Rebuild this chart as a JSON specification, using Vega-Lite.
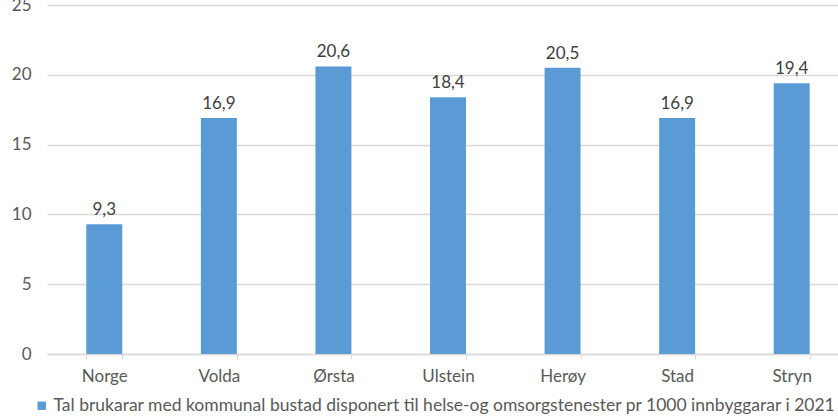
{
  "$schema": "https://vega.github.io/schema/vega-lite/v6.json",
  "width": 802,
  "height": 349,
  "autosize": {"type": "none"},
  "padding": {"left": 47, "top": 5, "right": 0, "bottom": 62},
  "usermeta": {"embedOptions": {"formatLocale": {"decimal": ",", "thousands": " ", "grouping": [3], "currency": ["", " kr"]}}},
  "title": {
    "text": "til helse-og omsorgstenester (pr 1000 innbyggarar) K-K tal 2021",
    "baseline": "bottom",
    "offset": -20,
    "fontSize": 21,
    "fontWeight": "normal",
    "color": "#595959",
    "anchor": "middle"
  },
  "config": {
    "font": "Lato",
    "view": {"stroke": null},
    "axis": {"labelColor": "#595959", "labelFontSize": 17, "titleColor": "#595959"},
    "legend": {"labelColor": "#595959"}
  },
  "data": {
    "values": [
      {"kommune": "Norge", "verdi": 9.3, "serie": "Tal brukarar med kommunal bustad disponert til helse-og omsorgstenester pr 1000 innbyggarar i 2021"},
      {"kommune": "Volda", "verdi": 16.9, "serie": "Tal brukarar med kommunal bustad disponert til helse-og omsorgstenester pr 1000 innbyggarar i 2021"},
      {"kommune": "Ørsta", "verdi": 20.6, "serie": "Tal brukarar med kommunal bustad disponert til helse-og omsorgstenester pr 1000 innbyggarar i 2021"},
      {"kommune": "Ulstein", "verdi": 18.4, "serie": "Tal brukarar med kommunal bustad disponert til helse-og omsorgstenester pr 1000 innbyggarar i 2021"},
      {"kommune": "Herøy", "verdi": 20.5, "serie": "Tal brukarar med kommunal bustad disponert til helse-og omsorgstenester pr 1000 innbyggarar i 2021"},
      {"kommune": "Stad", "verdi": 16.9, "serie": "Tal brukarar med kommunal bustad disponert til helse-og omsorgstenester pr 1000 innbyggarar i 2021"},
      {"kommune": "Stryn", "verdi": 19.4, "serie": "Tal brukarar med kommunal bustad disponert til helse-og omsorgstenester pr 1000 innbyggarar i 2021"}
    ]
  },
  "encoding": {
    "x": {
      "field": "kommune",
      "type": "nominal",
      "sort": null,
      "scale": {"paddingInner": 0.686, "paddingOuter": 0.343},
      "axis": {
        "title": null,
        "labelAngle": 0,
        "domainColor": "#D9D9D9",
        "domainWidth": 1.5,
        "tickColor": "#D9D9D9",
        "tickBand": "extent",
        "tickSize": 5,
        "labelPadding": 9,
        "grid": false
      }
    },
    "y": {
      "field": "verdi",
      "type": "quantitative",
      "scale": {"domain": [0, 25], "nice": false},
      "axis": {
        "title": null,
        "values": [0, 5, 10, 15, 20, 25],
        "domain": false,
        "ticks": false,
        "labelPadding": 16,
        "gridColor": "#D9D9D9",
        "gridWidth": 1.5
      }
    }
  },
  "layer": [
    {
      "mark": {"type": "bar", "color": "#5B9BD5"},
      "encoding": {
        "color": {
          "field": "serie",
          "type": "nominal",
          "scale": {"range": ["#5B9BD5"]},
          "legend": {
            "title": null,
            "orient": "none",
            "legendX": -14,
            "legendY": 392,
            "symbolType": "square",
            "symbolSize": 70,
            "symbolStrokeWidth": 0,
            "labelFontSize": 17.5,
            "labelLimit": 900,
            "labelOffset": 3
          }
        }
      }
    },
    {
      "mark": {"type": "text", "baseline": "bottom", "dy": -5, "fontSize": 17, "color": "#404040"},
      "encoding": {"text": {"field": "verdi", "type": "quantitative", "format": ".1f"}}
    }
  ]
}
